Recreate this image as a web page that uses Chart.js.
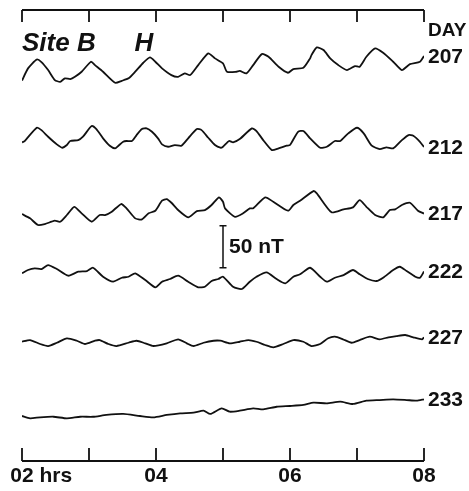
<!DOCTYPE html>
<html lang="en">
<head>
    <meta charset="UTF-8">
    <title>Site B H - daily traces</title>
    <script src="https://cdn.jsdelivr.net/npm/chart.js"></script>
    <style>
        body {
            margin: 0;
            background: #fff;
        }
        .chart-wrapper {
            position: relative;
            width: 469px;
            height: 491px;
        }
    </style>
</head>
<body>
<div class="chart-wrapper">
    <canvas id="traceChart"></canvas>
</div>

<script>
    // values: [hour UT, nT relative to the trace baseline]
    const day207 = [[2.00,-7],[2.09,7.5],[2.22,18],[2.29,15],[2.39,5.5],[2.49,-6.4],[2.57,-8.5],[2.64,-4.4],[2.72,-5.2],[2.79,-2.5],[2.89,3.5],[3.03,15.4],[3.09,11.4],[3.21,3.5],[3.39,-9.6],[3.49,-7.3],[3.59,-4.4],[3.69,3.5],[3.81,14.2],[3.91,20.6],[3.99,15.4],[4.09,7.5],[4.23,-0.5],[4.33,-2.5],[4.43,1.5],[4.51,-0.5],[4.63,11.4],[4.78,25.4],[4.88,19.4],[5.00,13.4],[5.06,3.5],[5.20,3.5],[5.25,4.6],[5.35,1.5],[5.45,11.4],[5.58,24.5],[5.68,21.3],[5.83,9.4],[5.97,2.3],[6.05,6.7],[6.20,8.2],[6.30,19.4],[6.32,23.3],[6.40,32.5],[6.50,29.3],[6.60,19.4],[6.72,11.4],[6.85,5.5],[6.97,10.2],[7.04,9.4],[7.14,21.3],[7.27,31.3],[7.39,26.1],[7.54,15.4],[7.67,5.5],[7.79,12.6],[7.94,15.4],[8.00,22.1]];
    const day212 = [[2.00,-0.6],[2.04,1],[2.22,16.8],[2.29,14],[2.39,6.1],[2.52,-3],[2.60,-7],[2.67,-3.8],[2.72,1],[2.84,2.1],[2.91,6.1],[3.04,18.8],[3.11,15.2],[3.21,4.2],[3.31,-4.6],[3.39,-7.7],[3.44,-4.6],[3.51,0.1],[3.56,1],[3.64,1],[3.71,8.1],[3.79,15.2],[3.86,16.1],[3.94,12],[4.03,4.2],[4.09,-3],[4.18,-5.8],[4.28,-3.8],[4.38,-4.6],[4.48,4.2],[4.61,15.2],[4.68,14],[4.78,4.9],[4.88,-3.8],[4.96,-7],[5.00,-5.8],[5.09,1],[5.15,-0.6],[5.25,3.3],[5.43,16.1],[5.50,12.9],[5.60,2.1],[5.73,-9.8],[5.83,-7.7],[5.95,-4.6],[6.00,-3.8],[6.12,12],[6.20,12.9],[6.30,4.2],[6.45,-7],[6.55,-5.8],[6.67,1],[6.75,1],[6.87,10.1],[7.00,16.8],[7.10,10.1],[7.22,-4.6],[7.34,-8.6],[7.44,-6.5],[7.54,-7.7],[7.67,2.1],[7.77,8.1],[7.84,7.3],[7.94,0.1],[8.00,-6.2]];
    const day217 = [[2.00,-6],[2.12,-11.1],[2.24,-19],[2.34,-17.9],[2.44,-15.1],[2.49,-13.9],[2.57,-15.1],[2.67,-7.1],[2.78,2.7],[2.89,-5.1],[3.04,-15.1],[3.16,-7.1],[3.24,-7.1],[3.34,-3.2],[3.48,6],[3.56,0.8],[3.69,-11.1],[3.79,-12.3],[3.89,-5.1],[3.99,-2],[4.09,9.9],[4.16,11.9],[4.23,7.5],[4.33,-1.2],[4.48,-9.9],[4.61,-2.4],[4.73,-1.2],[4.83,4.8],[4.94,13.9],[5.00,8.7],[5.03,0.8],[5.18,-9.2],[5.30,-5.1],[5.40,0.8],[5.45,0.8],[5.63,13.9],[5.75,8.7],[5.97,-2],[6.05,4.8],[6.15,9.9],[6.35,21.4],[6.40,18.7],[6.62,-3.9],[6.80,-0.4],[6.94,2],[7.04,10.7],[7.14,2.7],[7.27,-7.1],[7.39,-9.9],[7.49,-1.2],[7.57,-0.4],[7.67,4.8],[7.79,7.5],[7.91,-2],[8.00,-5.4]];
    const day222 = [[2.00,3.5],[2.09,7.4],[2.19,9.4],[2.29,8.6],[2.39,13.3],[2.52,8.6],[2.69,0.6],[2.84,5.4],[2.97,6.2],[3.06,10.1],[3.21,-0.6],[3.36,-6.5],[3.49,-1.8],[3.59,-0.6],[3.69,3.5],[3.84,-4.5],[3.99,-13.2],[4.09,-6.5],[4.21,-3.3],[4.33,0.6],[4.48,-6.5],[4.63,-13.2],[4.73,-12.5],[4.83,-5.7],[4.93,-3.3],[5.00,-0.6],[5.15,-12.5],[5.28,-15.2],[5.40,-6.5],[5.50,-0.6],[5.65,4.6],[5.80,-3.3],[5.93,-8.4],[6.05,-0.6],[6.15,2.3],[6.30,10.1],[6.45,-0.6],[6.55,-6.5],[6.67,-1.8],[6.80,1.4],[6.94,7.4],[7.04,2.3],[7.16,-3.3],[7.29,-5.7],[7.39,-1.8],[7.54,7.4],[7.64,11.3],[7.74,6.2],[7.87,-0.6],[7.94,-1.8],[8.00,5.6]];
    const day227 = [[2.00,2],[2.12,4],[2.27,-0.7],[2.39,-3.1],[2.52,0.8],[2.67,6.1],[2.82,3.2],[2.94,-0.7],[3.09,3.2],[3.16,4],[3.29,-0.7],[3.41,-3.1],[3.59,0.8],[3.71,3.2],[3.84,0.1],[3.96,-3.1],[4.16,0.1],[4.33,4.9],[4.46,0.1],[4.56,-3.1],[4.71,0.8],[4.86,3.2],[4.96,3.2],[5.10,0.1],[5.25,2],[5.38,4],[5.50,2],[5.63,-1.9],[5.75,-4.6],[5.90,-0.7],[6.05,4],[6.20,2],[6.32,-3.1],[6.45,-0.7],[6.57,6.1],[6.67,8],[6.79,4.9],[6.92,0.8],[7.04,4],[7.19,8],[7.34,4.9],[7.47,7.3],[7.59,8.8],[7.72,10],[7.84,7.3],[7.97,4.9],[8.00,7.3]];
    const day233 = [[2.00,-6.4],[2.12,-9.2],[2.27,-8],[2.47,-7.3],[2.67,-9.2],[2.87,-7.3],[3.06,-7.3],[3.26,-5.2],[3.51,-4],[3.76,-6.4],[3.96,-8],[4.16,-5.2],[4.36,-3.2],[4.56,-2.5],[4.71,-0.1],[4.81,-4],[4.98,2.7],[5.10,-1.3],[5.25,-0.1],[5.45,2.7],[5.60,1.5],[5.80,4.6],[6.00,5.5],[6.20,6.7],[6.35,9.4],[6.55,8.7],[6.75,10.6],[6.94,7.9],[7.14,11.8],[7.34,12.6],[7.54,13.4],[7.74,12.6],[7.89,11.8],[8.00,13.4]];

    const days = ['207', '212', '217', '222', '227', '233'];
    const traces = [day207, day212, day217, day222, day227, day233];
    const tickHours = [2, 3, 4, 5, 6, 7, 8];
    const labelHours = [2, 4, 6, 8];
    const labelTexts = ['02 hrs', '04', '06', '08'];

    const traceSpacing = 80;   // nT between stacked traces
    const scaleBar = 50;       // nT
    const FONT = '"Liberation Sans", Arial, sans-serif';

    const datasets = traces.map((tr, i) => ({
        label: days[i],
        data: tr.map(p => ({x: p[0], y: p[1] + (traces.length - 1 - i) * traceSpacing})),
        borderColor: '#111',
        borderWidth: 1.8,
        pointRadius: 0,
        tension: 0.2,
        fill: false
    }));

    // axes, labels and scale bar drawn with the chart's own scales
    const decor = {
        id: 'decor',
        afterDraw(chart) {
            const ctx = chart.ctx;
            const xs = chart.scales.x;
            const ys = chart.scales.y;
            const area = chart.chartArea;
            const x0 = xs.getPixelForValue(2);
            const x1 = xs.getPixelForValue(8);
            ctx.save();
            ctx.strokeStyle = '#111';
            ctx.fillStyle = '#111';
            ctx.lineWidth = 1.8;

            // top axis
            const topY = area.top;
            ctx.beginPath();
            ctx.moveTo(x0, topY);
            ctx.lineTo(x1, topY);
            tickHours.forEach(h => {
                const x = xs.getPixelForValue(h);
                ctx.moveTo(x, topY);
                ctx.lineTo(x, topY + 12);
            });
            ctx.stroke();

            // bottom axis
            const botY = area.bottom;
            ctx.beginPath();
            ctx.moveTo(x0, botY);
            ctx.lineTo(x1, botY);
            tickHours.forEach(h => {
                const x = xs.getPixelForValue(h);
                ctx.moveTo(x, botY);
                ctx.lineTo(x, botY - 13);
            });
            ctx.stroke();

            ctx.font = 'bold 21px ' + FONT;
            ctx.textBaseline = 'middle';
            labelHours.forEach((h, i) => {
                const x = xs.getPixelForValue(h);
                const parts = labelTexts[i].split(' ');
                const w = ctx.measureText(parts[0]).width;
                ctx.textAlign = 'left';
                ctx.fillText(labelTexts[i], x - w / 2, botY + 15);
            });

            // day labels at the end of each trace
            ctx.textAlign = 'left';
            ctx.font = 'bold 21px ' + FONT;
            chart.data.datasets.forEach((ds, i) => {
                const pts = chart.getDatasetMeta(i).data;
                const last = pts[pts.length - 1];
                ctx.fillText(days[i], x1 + 4, last.y + 1);
            });
            ctx.font = 'bold 19px ' + FONT;
            ctx.fillText('DAY', x1 + 4, topY + 21);

            // title
            ctx.font = 'italic bold 26px ' + FONT;
            ctx.textBaseline = 'alphabetic';
            ctx.fillText('Site B', x0, 51);
            ctx.fillText('H', xs.getPixelForValue(3.68), 51);

            // scale bar
            const bx = xs.getPixelForValue(5);
            const b0 = ys.getPixelForValue(170);
            const b1 = ys.getPixelForValue(170 + scaleBar);
            ctx.lineWidth = 1.5;
            ctx.beginPath();
            ctx.moveTo(bx, b0); ctx.lineTo(bx, b1);
            ctx.moveTo(bx - 3.5, b0); ctx.lineTo(bx + 3.5, b0);
            ctx.moveTo(bx - 3.5, b1); ctx.lineTo(bx + 3.5, b1);
            ctx.stroke();
            ctx.font = 'bold 21px ' + FONT;
            ctx.textBaseline = 'middle';
            ctx.fillText(scaleBar + ' nT', bx + 6, (b0 + b1) / 2);
            ctx.restore();
        }
    };

    const ctx = document.getElementById('traceChart').getContext('2d');
    new Chart(ctx, {
        type: 'line',
        data: {datasets: datasets},
        options: {
            responsive: true,
            maintainAspectRatio: false,
            animation: false,
            layout: {padding: {left: 22, right: 45, top: 10, bottom: 30}},
            plugins: {legend: {display: false}, tooltip: {enabled: false}},
            scales: {
                x: {type: 'linear', min: 2, max: 8, display: false},
                y: {min: -60, max: 477, display: false}
            }
        },
        plugins: [decor]
    });
</script>
</body>
</html>
